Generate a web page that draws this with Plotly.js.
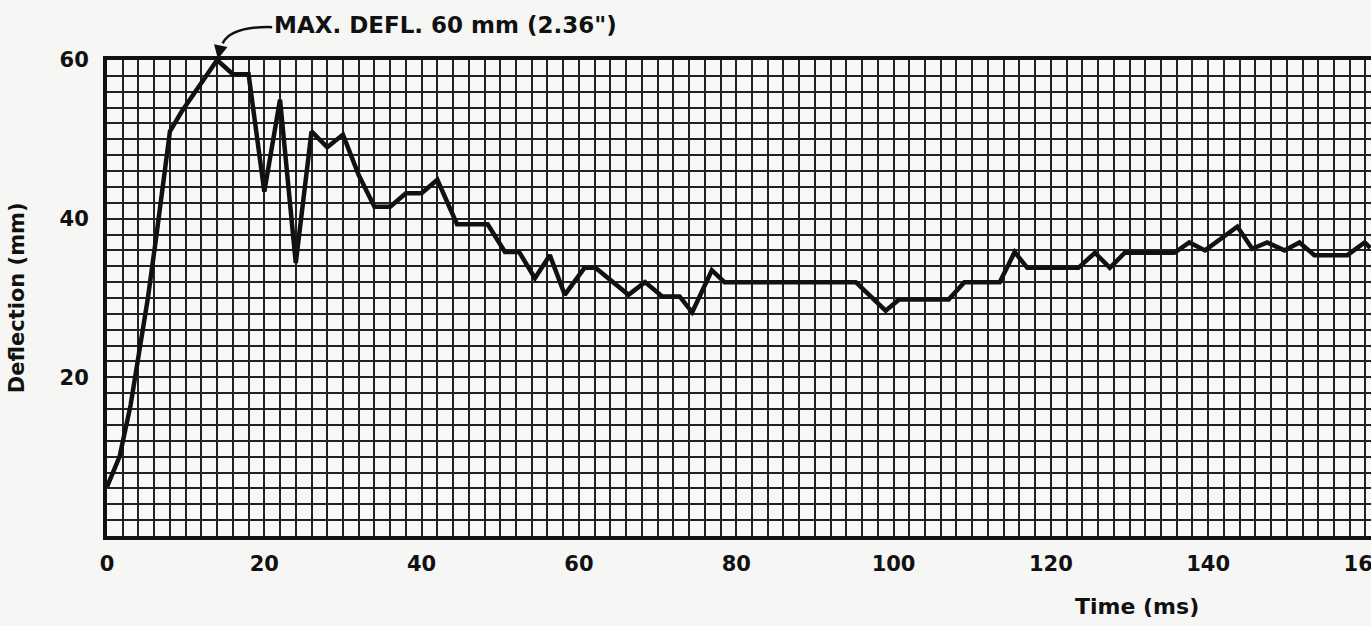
<!DOCTYPE html>
<html>
<head>
<meta charset="utf-8">
<script src="https://cdn.plot.ly/plotly-3.0.1.min.js"></script>
<style>
html,body{margin:0;padding:0;background:#f6f6f4;}
#chart{width:1371px;height:626px;}
</style>
</head>
<body>
<div id="chart"></div>
<script>
// Time (ms)
const timeMs = [0, 1.6, 3, 4.2, 5.2, 6.3, 7.4, 8, 9.5, 11.5, 13, 14, 16, 18, 20, 22, 24, 26, 28, 30, 32, 34, 36, 38, 40, 42, 44.5, 48.4, 50.6, 52.4, 54.4, 56.3, 58.2, 60.7, 62.1, 66.3, 68.4, 70.6, 72.8, 74.4, 76.9, 78.5, 95.2, 99, 100.7, 107, 109, 113.5, 115.4, 117, 123.5, 125.6, 127.5, 129.4, 135.7, 137.6, 139.6, 143.7, 145.6, 147.5, 149.7, 151.6, 153.5, 157.7, 159.9, 160.6];
// Deflection (mm)
const deflection = [6.2, 10, 16.5, 24, 30, 38, 46.5, 51, 53.5, 56.5, 58.5, 60, 58.2, 58.2, 43.4, 55, 34.4, 51, 49, 50.6, 45.5, 41.5, 41.5, 43.2, 43.2, 44.9, 39.3, 39.3, 35.8, 35.8, 32.5, 35.4, 30.4, 33.8, 33.8, 30.4, 32, 30.2, 30.2, 28.2, 33.5, 32, 32, 28.4, 29.8, 29.8, 32, 32, 35.8, 33.8, 33.8, 35.7, 33.8, 35.7, 35.7, 37, 36, 39, 36.2, 37, 36, 37, 35.4, 35.4, 37, 36.3];
const xTickVals = [0, 20, 40, 60, 80, 100, 120, 140, 160];
const xTickText = ['0', '20', '40', '60', '80', '100', '120', '140', '160'];
const yTickVals = [20, 40, 60];
const yTickText = ['20', '40', '60'];

const maxIdx = deflection.indexOf(Math.max(...deflection));
const maxT = timeMs[maxIdx], maxD = deflection[maxIdx];
const Y_MAX = 60;

const FONT = '"DejaVu Sans", "Liberation Sans", sans-serif';
const INK = '#111';
const GRID = '#222';

const trace = {
  x: timeMs, y: deflection, type: 'scatter', mode: 'lines',
  line: {color: INK, width: 4.5}, hoverinfo: 'skip', showlegend: false
};

const layout = {
  width: 1371, height: 626,
  margin: {l: 107, r: 0, t: 60, b: 90},
  paper_bgcolor: '#f6f6f4', plot_bgcolor: '#f8f8f6',
  font: {family: FONT, color: INK},
  xaxis: {
    range: [0, 160.7], tickvals: xTickVals, ticktext: xTickText,
    ticks: '', ticklabelstandoff: 6, ticklabeloverflow: 'allow',
    tickfont: {family: FONT, size: 21, weight: 'bold', color: INK},
    showgrid: true, gridcolor: GRID, gridwidth: 2,
    minor: {dtick: 2, showgrid: true, gridcolor: GRID, gridwidth: 2},
    showline: true, linecolor: INK, linewidth: 4, mirror: true,
    zeroline: false, fixedrange: true
  },
  yaxis: {
    range: [0, Y_MAX], tickvals: yTickVals, ticktext: yTickText,
    ticks: '', ticklabelstandoff: 10,
    tickfont: {family: FONT, size: 21, weight: 'bold', color: INK},
    showgrid: true, gridcolor: GRID, gridwidth: 2,
    minor: {dtick: 2, showgrid: true, gridcolor: GRID, gridwidth: 2},
    showline: true, linecolor: INK, linewidth: 4, mirror: true,
    zeroline: false, fixedrange: true
  },
  shapes: [{
    type: 'path', xref: 'x', yref: 'paper', layer: 'above',
    path: 'M 21,1.069 Q 15.8,1.071 14.7,1.035',
    line: {color: INK, width: 2.5}
  }],
  annotations: [
    {
      xref: 'x', yref: 'paper', x: maxT + 7, y: 1.0735,
      xanchor: 'left', yanchor: 'middle', showarrow: false,
      text: 'MAX. DEFL. ' + maxD + ' mm (2.36")',
      font: {family: FONT, size: 23, weight: 'bold', color: INK}
    },
    {
      xref: 'x', yref: 'paper', x: maxT + 0.1, y: maxD / Y_MAX + 0.002, text: '',
      showarrow: true, arrowhead: 2, arrowsize: 1.1, arrowwidth: 2.5,
      arrowcolor: INK, ax: 3, ay: -14, standoff: 0
    },
    {
      xref: 'paper', yref: 'paper', x: (1137 - 107) / 1264, y: -0.149,
      xanchor: 'center', yanchor: 'middle', showarrow: false,
      text: 'Time (ms)',
      font: {family: FONT, size: 22, weight: 'bold', color: INK}
    },
    {
      xref: 'paper', yref: 'paper', x: -0.071, y: 0.5,
      xanchor: 'center', yanchor: 'middle', showarrow: false, textangle: -90,
      text: 'Deflection (mm)',
      font: {family: FONT, size: 21, weight: 'bold', color: INK}
    }
  ]
};

Plotly.newPlot('chart', [trace], layout, {displayModeBar: false, staticPlot: true});
</script>
</body>
</html>
